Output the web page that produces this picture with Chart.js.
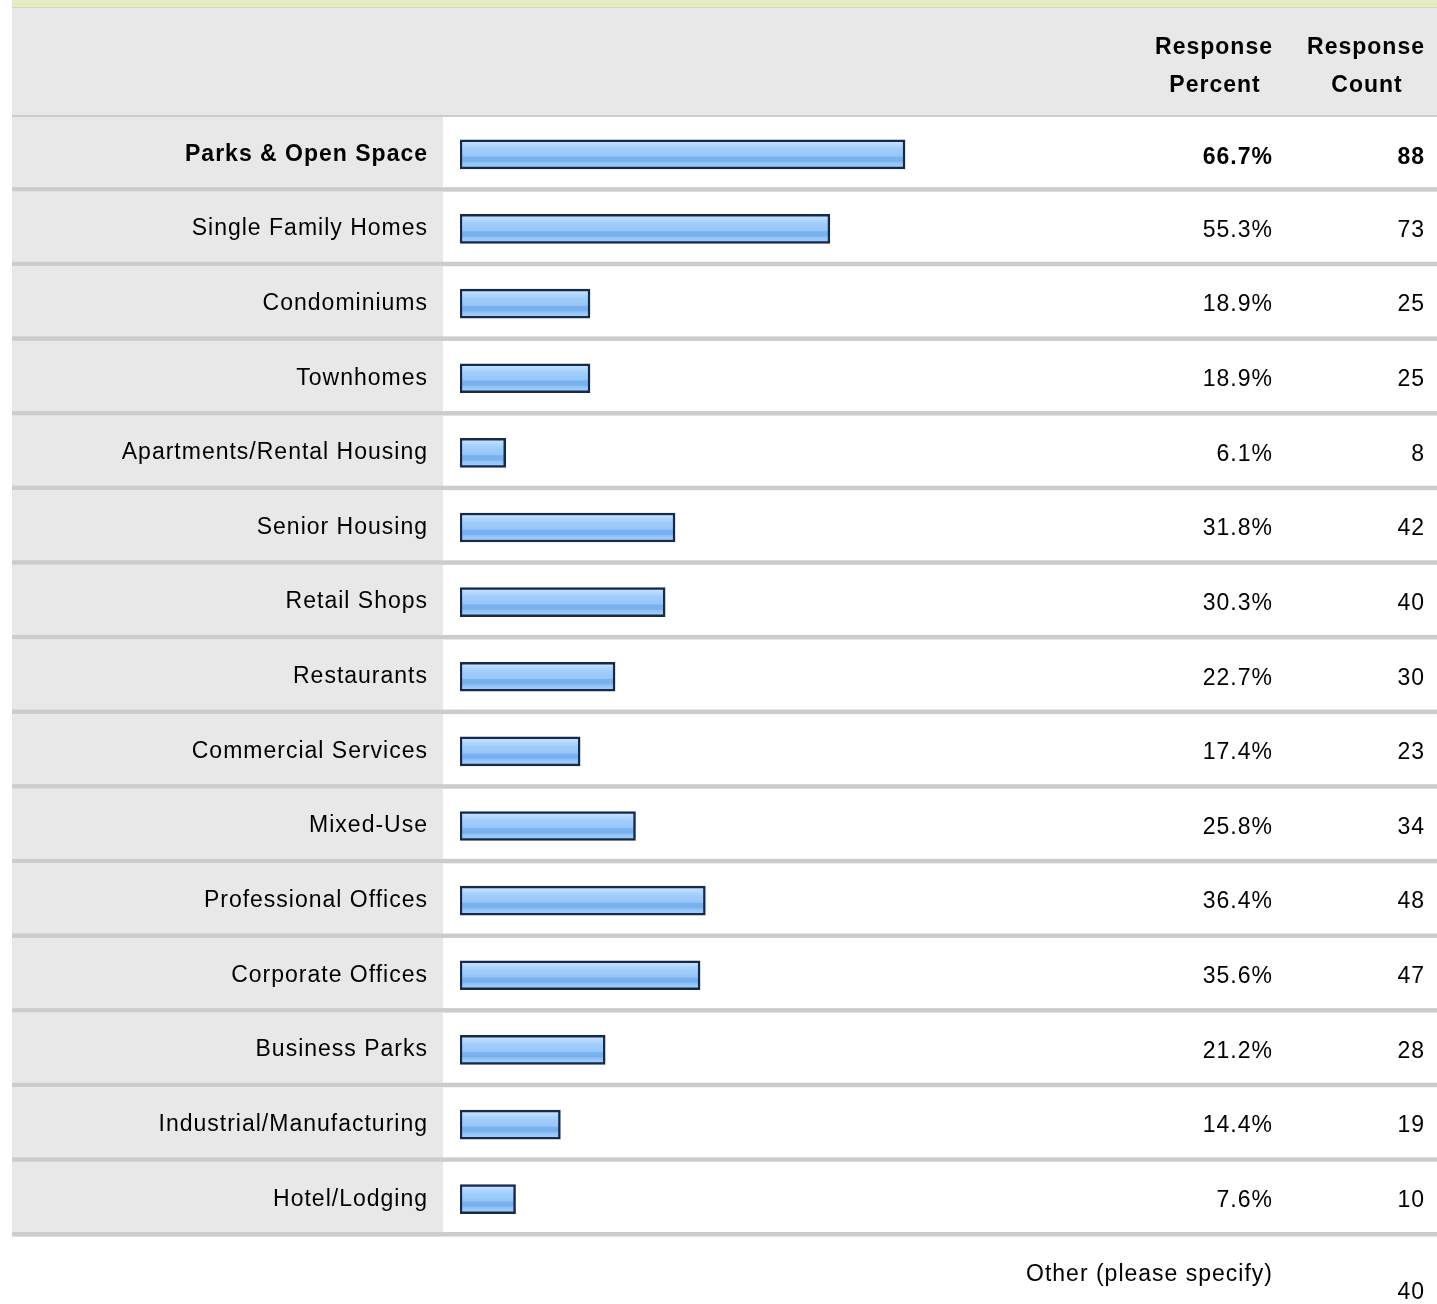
<!DOCTYPE html>
<html>
<head>
	<meta charset="utf-8">
	<title>Response Percent and Count</title>

	<script src="https://cdn.jsdelivr.net/npm/chart.js"></script>

	<style>
		html, body {
			margin: 0;
			padding: 0;
			background: #fff;
			overflow: hidden;
		}

		.chart {
			position: relative;
			width: 1437px;
			height: 1304px;
		}
	</style>
</head>

<body>
	<div id="chart" class="chart">
		<canvas id="myChart"></canvas>
	</div>

	<script>
		// answer options, in the order they were listed
		var categories = [
			'Parks & Open Space',
			'Single Family Homes',
			'Condominiums',
			'Townhomes',
			'Apartments/Rental Housing',
			'Senior Housing',
			'Retail Shops',
			'Restaurants',
			'Commercial Services',
			'Mixed-Use',
			'Professional Offices',
			'Corporate Offices',
			'Business Parks',
			'Industrial/Manufacturing',
			'Hotel/Lodging'
		];

		var percents = [ 66.7, 55.3, 18.9, 18.9, 6.1, 31.8, 30.3, 22.7, 17.4, 25.8, 36.4, 35.6, 21.2, 14.4, 7.6 ];
		var counts = [ 88, 73, 25, 25, 8, 42, 40, 30, 23, 34, 48, 47, 28, 19, 10 ];

		var headerTop = [ 'Response', 'Response' ];
		var headerBottom = [ 'Percent', 'Count' ];

		var otherLabel = 'Other (please specify)';
		var otherCount = 40;

		var FONT = '"Liberation Sans", Arial, Helvetica, sans-serif';
		var SIZE = 23;

		// bars start a few pixels left of zero, like the border of the old gif bars
		var BASE = -0.83;

		var LABEL_RIGHT = 443;
		var PCT_RIGHT = 1273;
		var CNT_RIGHT = 1425;

		function rowEdges( chart ) {
			var area = chart.chartArea;
			var step = ( area.bottom - area.top ) / categories.length;
			var edges = [];

			for( var i = 0; i <= categories.length; i++ ) {
				edges.push( area.top + i * step );
			}

			return edges;
		}

		function barFill( c ) {
			var chart = c.chart;
			var ys = chart.scales.y;

			if( !ys || c.dataIndex === undefined ) {
				return '#9ccbf9';
			}

			var yc = ys.getPixelForValue( c.dataIndex );

			if( !isFinite( yc ) ) {
				return '#9ccbf9';
			}

			var g = chart.ctx.createLinearGradient( 0, yc - 14, 0, yc + 14 );

			g.addColorStop( 0.00, '#cfe7ff' );
			g.addColorStop( 0.16, '#b4d8fe' );
			g.addColorStop( 0.32, '#a0cdfb' );
			g.addColorStop( 0.56, '#96c6f8' );
			g.addColorStop( 0.60, '#7ab1ee' );
			g.addColorStop( 0.74, '#78afee' );
			g.addColorStop( 0.80, '#8fc2f6' );
			g.addColorStop( 1.00, '#a9d4fc' );

			return g;
		}

		// grey label column, header band and row separators
		var tableBackground = {
			id: 'tableBackground',
			beforeDraw: function( chart ) {
				var ctx = chart.ctx;
				var w = chart.width;
				var edges = rowEdges( chart );

				ctx.save();
				ctx.fillStyle = '#ffffff';
				ctx.fillRect( 0, 0, w, chart.height );

				ctx.fillStyle = '#e6ebc3';
				ctx.fillRect( 12, 0, w - 12, 7 );
				ctx.fillStyle = '#d2d4c6';
				ctx.fillRect( 12, 7, w - 12, 1.5 );

				ctx.fillStyle = '#e8e8e8';
				ctx.fillRect( 12, 8.5, w - 12, edges[ 0 ] - 8.5 );

				ctx.fillStyle = '#cccccc';
				ctx.fillRect( 12, edges[ 0 ] - 2, w - 12, 2 );

				for( var i = 0; i < categories.length; i++ ) {
					ctx.fillStyle = '#e8e8e8';
					ctx.fillRect( 12, edges[ i ], LABEL_RIGHT - 12, edges[ i + 1 ] - edges[ i ] );

					ctx.fillStyle = '#cccccc';
					ctx.fillRect( 12, edges[ i + 1 ] - 4.5, w - 12, 4.5 );
				}

				ctx.restore();

				ctx.letterSpacing = '1px';
			},
			afterDraw: function( chart ) {
				var ctx = chart.ctx;
				var ys = chart.scales.y;
				var edges = rowEdges( chart );

				ctx.save();
				ctx.fillStyle = '#000';
				ctx.textBaseline = 'middle';

				// column headers
				ctx.font = 'bold ' + SIZE + 'px ' + FONT;
				ctx.textAlign = 'center';
				ctx.fillText( headerTop[ 0 ], 1214, 48 );
				ctx.fillText( headerBottom[ 0 ], 1215, 85.5 );
				ctx.fillText( headerTop[ 1 ], 1366, 48 );
				ctx.fillText( headerBottom[ 1 ], 1367, 85.5 );

				// percent and count columns
				ctx.textAlign = 'right';

				for( var i = 0; i < categories.length; i++ ) {
					var y = ys.getPixelForValue( i ) + ( i === 0 ? 3 : 1.5 );

					ctx.font = ( i === 0 ? 'bold ' : '' ) + SIZE + 'px ' + FONT;
					ctx.fillText( percents[ i ].toFixed( 1 ) + '%', PCT_RIGHT, y );
					ctx.fillText( String( counts[ i ] ), CNT_RIGHT, y );
				}

				ctx.font = SIZE + 'px ' + FONT;
				ctx.fillText( otherLabel, PCT_RIGHT, edges[ categories.length ] + 38 );
				ctx.fillText( String( otherCount ), CNT_RIGHT, edges[ categories.length ] + 56 );

				ctx.restore();
				ctx.letterSpacing = '0px';
			}
		};

		var ctx = document.getElementById( 'myChart' );

		new Chart( ctx, {
			type: 'bar',
			data: {
				labels: categories,
				datasets: [{
					label: 'Response Percent',
					data: percents,
					base: BASE,
					backgroundColor: barFill,
					borderColor: '#162a4c',
					borderWidth: 2.5,
					borderSkipped: false,
					barThickness: 29
				}]
			},
			options: {
				indexAxis: 'y',
				responsive: true,
				maintainAspectRatio: false,
				animation: false,
				layout: {
					padding: {
						left: 0,
						top: 117,
						right: 312.5,
						bottom: 1304 - 1236.5
					}
				},
				scales: {
					x: {
						display: false,
						min: BASE,
						max: 100
					},
					y: {
						afterFit: function( scale ) {
							scale.width = 460;
						},
						grid: {
							display: false,
							drawTicks: false
						},
						border: {
							display: false
						},
						ticks: {
							padding: 32,
							color: '#000',
							font: function( c ) {
								return {
									family: FONT,
									size: SIZE,
									weight: c.index === 0 ? 'bold' : 'normal'
								};
							}
						}
					}
				},
				plugins: {
					legend: {
						display: false
					},
					tooltip: {
						enabled: false
					}
				}
			},
			plugins: [ tableBackground ]
		});
	</script>
</body>
</html>
